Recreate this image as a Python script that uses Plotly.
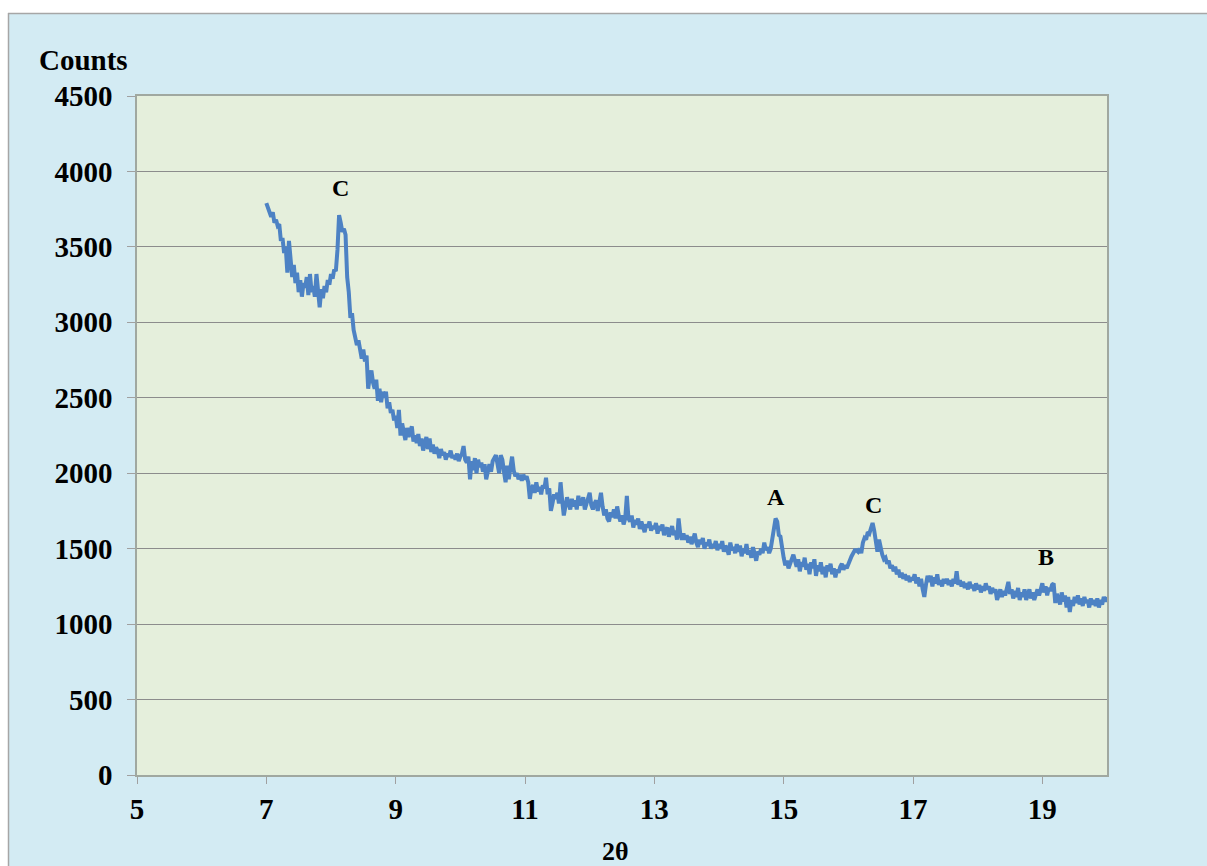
import numpy as np
import plotly.graph_objects as go

# 2-theta scan grid (step 0.025 deg) and counts
two_theta = np.round(np.arange(7.0, 20.0001, 0.025), 3)

counts = [
    # 7.0 - 7.475
    3790, 3765, 3740, 3700, 3730, 3660, 3680, 3640, 3650, 3540, 3560, 3460, 3500, 3330, 3540, 3420, 3300, 3380, 3260, 3330,
    # 7.5 - 7.975
    3200, 3280, 3170, 3260, 3230, 3300, 3180, 3320, 3200, 3240, 3170, 3320, 3200, 3100, 3220, 3160, 3240, 3200, 3280, 3250,
    # 8.0 - 8.475
    3320, 3290, 3350, 3340, 3480, 3710, 3660, 3600, 3620, 3580, 3300, 3200, 3030, 3060, 2950, 2880, 2850, 2880, 2800, 2760,
    # 8.5 - 8.975
    2820, 2740, 2780, 2560, 2640, 2680, 2600, 2560, 2620, 2480, 2560, 2470, 2540, 2500, 2540, 2430, 2470, 2400, 2420, 2350,
    # 9.0 - 9.475
    2380, 2300, 2420, 2250, 2330, 2260, 2220, 2300, 2240, 2280, 2310, 2210, 2250, 2200, 2260, 2180, 2230, 2150, 2210, 2240,
    # 9.5 - 9.975
    2160, 2230, 2140, 2190, 2130, 2170, 2150, 2100, 2160, 2120, 2140, 2090, 2130, 2110, 2150, 2100, 2120, 2090, 2130, 2080,
    # 10.0 - 10.475
    2110, 2130, 2180, 2090, 2070, 2110, 1960, 2080, 2020, 2100, 2000, 2090, 2040, 2070, 2010, 2060, 1960, 2020, 2060, 2010,
    # 10.5 - 10.975
    2080, 2100, 2120, 2060, 2000, 2120, 2090, 2010, 1940, 2050, 1960, 2040, 2110, 2020, 1980, 2000, 1960, 1990, 1950, 1990,
    # 11.0 - 11.475
    1960, 1980, 1940, 1830, 1900, 1920, 1870, 1940, 1880, 1910, 1860, 1920, 1900, 1970, 1860, 1900, 1750, 1800, 1860, 1830,
    # 11.5 - 11.975
    1870, 1800, 1940, 1820, 1720, 1780, 1840, 1800, 1760, 1830, 1780, 1820, 1760, 1850, 1790, 1800, 1840, 1760, 1800, 1820,
    # 12.0 - 12.475
    1870, 1790, 1760, 1800, 1820, 1750, 1800, 1870, 1780, 1720, 1760, 1700, 1680, 1740, 1710, 1760, 1700, 1780, 1720, 1680,
    # 12.5 - 12.975
    1720, 1660, 1700, 1850, 1700, 1680, 1720, 1640, 1690, 1660, 1700, 1630, 1680, 1650, 1610, 1660, 1640, 1680, 1620, 1650,
    # 13.0 - 13.475
    1630, 1670, 1600, 1650, 1620, 1660, 1590, 1620, 1640, 1580, 1610, 1650, 1590, 1620, 1560, 1700, 1600, 1560, 1600, 1560,
    # 13.5 - 13.975
    1590, 1540, 1580, 1530, 1560, 1600, 1540, 1510, 1560, 1530, 1570, 1500, 1540, 1520, 1560, 1500, 1530, 1510, 1550, 1490,
    # 14.0 - 14.475
    1530, 1500, 1550, 1480, 1520, 1500, 1460, 1540, 1490, 1510, 1470, 1530, 1480, 1520, 1450, 1500, 1470, 1530, 1460, 1490,
    # 14.5 - 14.975
    1440, 1510, 1470, 1420, 1480, 1460, 1500, 1470, 1540, 1490, 1510, 1470, 1500, 1560, 1620, 1700, 1680, 1590, 1580, 1480,
    # 15.0 - 15.475
    1440, 1390, 1420, 1370, 1400, 1440, 1460, 1420, 1380, 1430, 1350, 1410, 1380, 1440, 1360, 1400, 1330, 1410, 1370, 1430,
    # 15.5 - 15.975
    1320, 1390, 1350, 1410, 1330, 1380, 1310, 1390, 1350, 1400, 1330, 1370, 1310, 1360, 1340, 1380, 1400, 1360, 1390, 1370,
    # 16.0 - 16.475
    1400, 1420, 1450, 1470, 1490, 1490, 1480, 1500, 1470, 1540, 1570, 1560, 1610, 1600, 1640, 1670, 1620, 1530, 1480, 1560,
    # 16.5 - 16.975
    1500, 1460, 1430, 1440, 1400, 1420, 1370, 1390, 1350, 1380, 1330, 1360, 1310, 1340, 1300, 1330, 1290, 1320, 1280, 1310,
    # 17.0 - 17.475
    1290, 1330, 1270, 1310, 1250, 1300, 1230, 1180, 1260, 1320, 1280, 1320, 1250, 1310, 1270, 1330, 1260, 1290, 1250, 1300,
    # 17.5 - 17.975
    1270, 1300, 1260, 1290, 1250, 1300, 1270, 1350, 1260, 1290, 1250, 1280, 1240, 1270, 1230, 1280, 1240, 1260, 1220, 1270,
    # 18.0 - 18.475
    1230, 1260, 1210, 1250, 1220, 1270, 1230, 1250, 1200, 1240, 1210, 1230, 1160, 1200, 1230, 1180, 1220, 1190, 1230, 1280,
    # 18.5 - 18.975
    1200, 1230, 1170, 1220, 1180, 1240, 1160, 1210, 1180, 1230, 1160, 1200, 1230, 1170, 1210, 1160, 1200, 1230, 1190, 1240,
    # 19.0 - 19.475
    1270, 1210, 1250, 1190, 1240, 1220, 1260, 1270, 1140, 1200, 1170, 1130, 1210, 1150, 1190, 1110, 1180, 1080, 1160, 1120,
    # 19.5 - 20.0
    1180, 1140, 1190, 1130, 1170, 1120, 1180, 1140, 1160, 1110, 1170, 1130, 1160, 1120, 1170, 1110, 1160, 1130, 1180, 1150, 1180,
]

peak_labels = ["C", "A", "C", "B"]
peak_x = [8.15, 14.88, 16.39, 19.06]
peak_y = [3890, 1842, 1789, 1445]

x_ticks = [5, 7, 9, 11, 13, 15, 17, 19]
y_ticks = [0, 500, 1000, 1500, 2000, 2500, 3000, 3500, 4000, 4500]

FONT = "Liberation Serif"
OUTER = "#d3ebf3"
PLOT = "#e5efdc"

W, H = 1207, 866
L, R, T, B = 137, W - 1107, 96, H - 775
pw, ph = W - L - R, H - T - B


def px(xp):
    return (xp - L) / pw


def py(yp):
    return (H - B - yp) / ph


fig = go.Figure()
fig.add_trace(go.Scatter(
    x=two_theta, y=counts, mode="lines",
    line=dict(color="#4d82c4", width=4),
    hoverinfo="skip", showlegend=False,
))

for lab, xv, yv in zip(peak_labels, peak_x, peak_y):
    fig.add_annotation(x=xv, y=yv, text=f"<b>{lab}</b>", showarrow=False,
                       xanchor="center", yanchor="middle",
                       font=dict(family=FONT, size=24, color="black"))

# y-axis title "Counts" and x-axis title
fig.add_annotation(xref="paper", yref="paper", x=px(83), y=py(60), text="<b>Counts</b>",
                   showarrow=False, xanchor="center", yanchor="middle",
                   font=dict(family=FONT, size=29, color="black"))
fig.add_annotation(xref="paper", yref="paper", x=px(615), y=py(851), text="<b>2θ</b>",
                   showarrow=False, xanchor="center", yanchor="middle",
                   font=dict(family=FONT, size=26, color="black"))

# white page strips + outer chart border
fig.add_shape(type="rect", xref="paper", yref="paper", x0=px(-5), x1=px(W + 5), y0=py(-5), y1=py(13),
              fillcolor="white", line=dict(width=0), layer="below")
fig.add_shape(type="rect", xref="paper", yref="paper", x0=px(-5), x1=px(8), y0=py(-5), y1=py(H + 5),
              fillcolor="white", line=dict(width=0), layer="below")
fig.add_shape(type="line", xref="paper", yref="paper", x0=px(8), x1=px(W + 5), y0=py(13.5), y1=py(13.5),
              line=dict(color="#a6a6a6", width=1.5))
fig.add_shape(type="line", xref="paper", yref="paper", x0=px(8.5), x1=px(8.5), y0=py(13), y1=py(H + 5),
              line=dict(color="#a6a6a6", width=1.5))

fig.update_layout(
    width=W, height=H,
    margin=dict(l=L, r=R, t=T, b=B),
    paper_bgcolor=OUTER, plot_bgcolor=PLOT,
    font=dict(family=FONT, color="black"),
    xaxis=dict(range=[5, 20], tickvals=x_ticks, ticktext=[f"<b>{v}</b>" for v in x_ticks],
               ticks="outside", ticklen=7, tickcolor="#a0a0a0", tickwidth=1,
               ticklabelstandoff=0,
               showline=True, linecolor="#a0a8a0", linewidth=1.5, mirror=True,
               showgrid=False, zeroline=False, tickfont=dict(family=FONT, size=29)),
    yaxis=dict(range=[0, 4500], tickvals=y_ticks, ticktext=[f"<b>{v}</b>" for v in y_ticks],
               ticks="outside", ticklen=8, tickcolor="#a0a0a0", tickwidth=1,
               ticklabelstandoff=9,
               showline=True, linecolor="#a0a8a0", linewidth=1.5, mirror=True,
               showgrid=True, gridcolor="#8c8c8c", gridwidth=1, zeroline=False,
               tickfont=dict(family=FONT, size=29)),
)

fig.write_html("out.html")
